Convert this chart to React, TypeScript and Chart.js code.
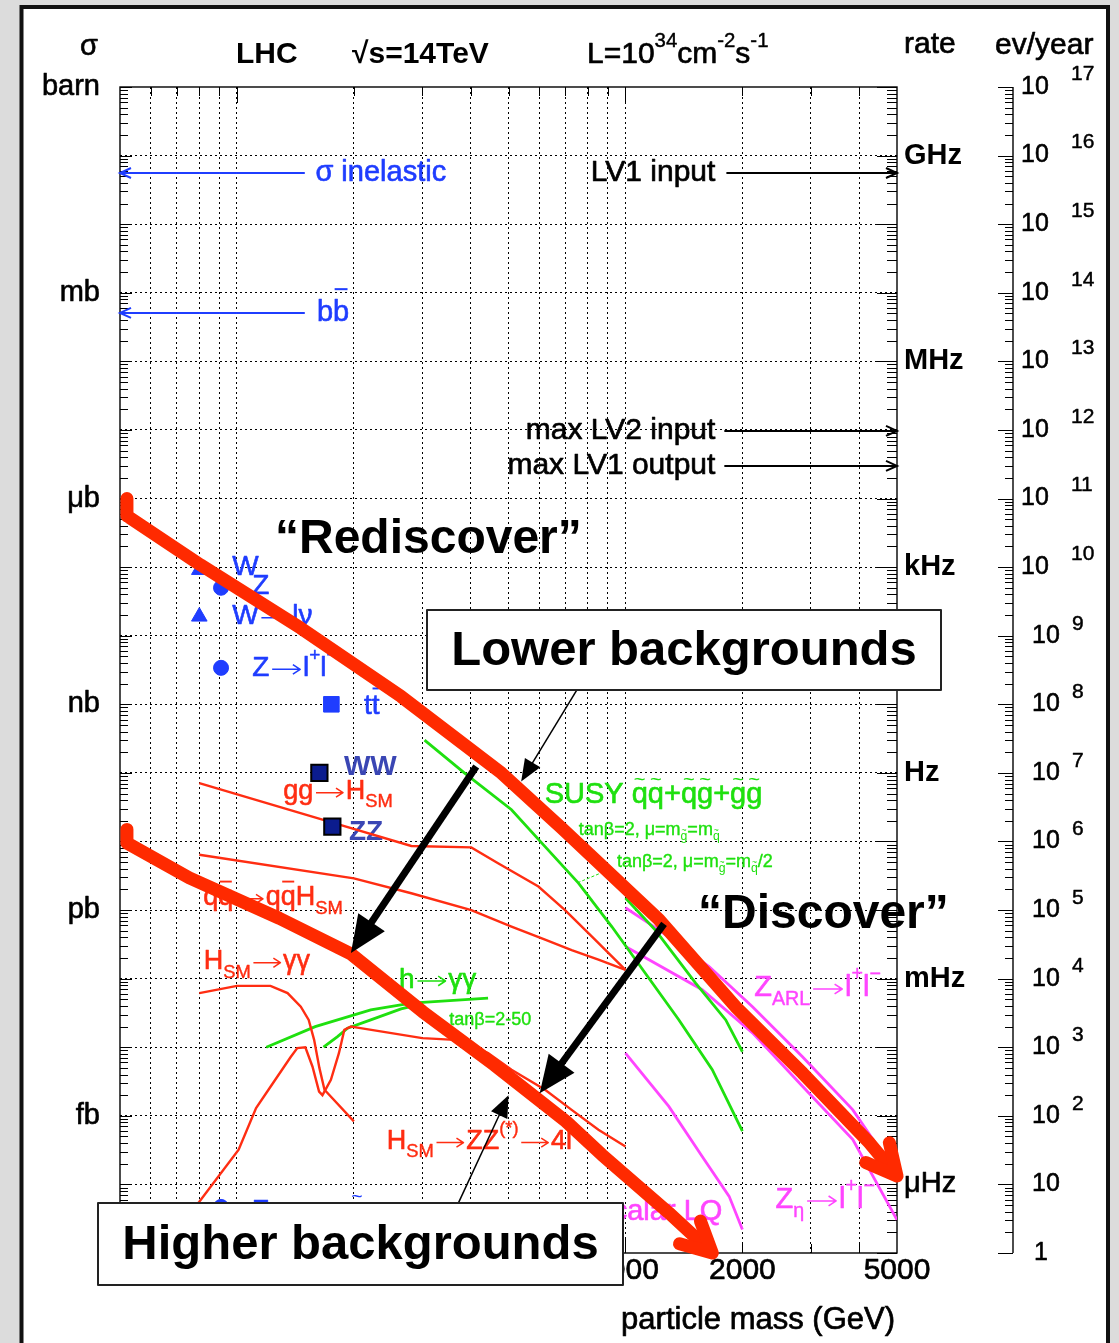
import React, { useEffect, useRef } from 'react';
import { Chart, registerables } from 'chart.js';

Chart.register(...registerables);

// ---------------- data: x = particle mass (GeV), y = cross-section sigma (barn) ----------------
const xTickLabels = [50, 100, 200, 500, 1000, 2000, 5000];
const xGridValues = [60, 70, 80, 90, 100, 200, 300, 400, 500, 600, 700, 800, 900, 1000, 2000, 3000, 4000];
const yGridValues = [1e-1, 1e-2, 1e-3, 1e-4, 1e-5, 1e-6, 1e-7, 1e-8, 1e-9, 1e-10, 1e-11, 1e-12, 1e-13, 1e-14, 1e-15, 1e-16];
const unitLabels = ['barn', 'mb', 'μb', 'nb', 'pb', 'fb'];
const unitSigma = [1, 1e-3, 1e-6, 1e-9, 1e-12, 1e-15];
const rateLabels = ['GHz', 'MHz', 'kHz', 'Hz', 'mHz', 'μHz'];
const rateSigma = [1e-1, 1e-4, 1e-7, 1e-10, 1e-13, 1e-16];
const evYearExponents = [17, 16, 15, 14, 13, 12, 11, 10, 9, 8, 7, 6, 5, 4, 3, 2, 1, 0];
const EV_PER_YEAR_PER_BARN = 1e17;

// Standard model Higgs (red)
const ggH_mass = [80, 178, 281, 401, 470, 597, 699, 820, 1000];
const ggH_sigma = [7.1e-11, 1.85e-11, 8.6e-12, 8.2e-12, 4.8e-12, 2.2e-12, 1.0e-12, 4.1e-13, 1.34e-13];
const qqH_mass = [80, 200, 281, 401, 509, 621, 727, 852, 1000];
const qqH_sigma = [6.4e-12, 2.9e-12, 1.76e-12, 1.0e-12, 5.75e-13, 3.7e-13, 2.6e-13, 1.9e-13, 1.34e-13];
const Hgg_mass = [80, 100, 122, 135, 146, 153, 158, 163, 168, 200];
const Hgg_sigma = [6.15e-14, 7.85e-14, 7.85e-14, 6.15e-14, 3.9e-14, 2.5e-14, 1.28e-14, 5.0e-15, 2.4e-15, 8.3e-16];
const HZZ_mass = [63, 80, 101, 112, 122, 137.5, 143, 150, 156.5, 162.7, 166, 174.5, 183, 189, 196.5, 208, 300, 364, 443, 509, 621, 727, 852, 1000];
const HZZ_sigma = [1.1e-17, 5.6e-17, 3.2e-16, 1.3e-15, 2.65e-15, 7.2e-15, 9.7e-15, 1.0e-14, 5.2e-15, 2.26e-15, 2.0e-15, 3.35e-15, 8.2e-15, 1.8e-14, 2.0e-14, 1.9e-14, 1.36e-14, 1.28e-14, 8.2e-15, 4.7e-15, 2.4e-15, 1.22e-15, 6.25e-16, 3.57e-16];

// MSSM h -> gamma gamma (green)
const hggA_mass = [119, 159, 221, 281, 443];
const hggA_sigma = [1.0e-14, 2.0e-14, 3.5e-14, 4.4e-14, 5.2e-14];
const hggB_mass = [167, 181.5, 192.6, 221, 264.5, 300];
const hggB_sigma = [1.0e-14, 1.43e-14, 1.9e-14, 2.5e-14, 3.63e-14, 4.3e-14];

// SUSY squark/gluino (green)
const susy1_mass = [304, 385.5, 509, 621, 757, 923, 1125, 1373, 1673, 2000];
const susy1_sigma = [3.0e-10, 9.9e-11, 2.9e-11, 8.4e-12, 2.47e-12, 5.7e-13, 1.2e-13, 2.5e-14, 4.7e-15, 6.0e-16];
const susy2_mass = [1000, 1194, 1514, 1812, 2000];
const susy2_sigma = [1.5e-12, 5.1e-13, 8.7e-14, 2.5e-14, 8.6e-15];

// Exotics (magenta)
const zarl_mass = [1000, 1221, 1644, 2123, 2859, 3848, 5000];
const zarl_sigma = [1.08e-12, 5.1e-13, 1.49e-13, 3.9e-14, 7.2e-15, 1.22e-15, 1.38e-16];
const zeta_mass = [1000, 1576, 2123, 2859, 3848, 5000];
const zeta_sigma = [2.94e-13, 6.9e-14, 1.62e-14, 2.67e-15, 4.5e-16, 3.05e-17];
const lq_mass = [1000, 1293, 1576, 1849, 2000];
const lq_sigma = [8.2e-15, 1.37e-15, 2.55e-16, 6.7e-17, 2.2e-17];

// Standard processes (blue / navy markers)
const wTot_mass = [80];
const wTot_sigma = [9.1e-8];
const wLnu_mass = [80];
const wLnu_sigma = [1.9e-8];
const zTot_mass = [91, 91];
const zTot_sigma = [5.0e-8, 4.7e-17];
const zLL_mass = [91];
const zLL_sigma = [3.4e-9];
const tt_mass = [175];
const tt_sigma = [1.0e-9];
const diboson_mass = [163, 176];
const diboson_sigma = [1.0e-10, 1.65e-11];

// "Rediscover" / "Discover" thick red bands
const redUpper_mass = [52.1, 52.1, 80.5, 145.9, 264.5, 480, 686, 1221, 1919, 2859, 4251, 5000];
const redUpper_sigma = [1.0e-6, 5.6e-7, 1.08e-7, 1.29e-8, 1.3e-9, 9.9e-11, 1.56e-11, 7.2e-13, 3.92e-14, 4.19e-15, 4.0e-16, 1.33e-16];
const redLower_mass = [52.1, 52.1, 75.4, 128.5, 196.5, 300.5, 460, 703, 870, 1293, 1673];
const redLower_sigma = [1.5e-11, 9.5e-12, 2.95e-12, 7.6e-13, 2.3e-13, 3.3e-14, 5.5e-15, 8.3e-16, 2.7e-16, 3.85e-17, 1.0e-17];

// arrows: [tail mass, tail sigma, tip mass, tip sigma]
const thickArrowA = [413, 1.24e-10, 196.5, 2.37e-13];
const thickArrowB = [1257, 6.3e-13, 601.5, 2.14e-15];
const thinArrowC = [750, 1.62e-9, 539, 7.5e-11];
const thinArrowD = [371.4, 5.34e-17, 500, 2.0e-15];
// horizontal reference arrows: sigma level, from mass, to mass
const inelastic_level = [0.0558, 149.5, 50];
const bb_level = [5.08e-4, 149.5, 50];
const lv1in_level = [0.0558, 1819, 5000];
const lv2in_level = [9.67e-6, 1797, 5000];
const lv1out_level = [2.99e-6, 1797, 5000];

// ---------------- styles ----------------
const FONT = "'Liberation Sans', Arial, Helvetica, sans-serif";
const RED = '#ff2d12';
const RED_THICK = '#ff2a00';
const GREEN = '#1fe00f';
const MAGENTA = '#ff45ff';
const BLUE = '#1f3dff';
const NAVY = '#0b1c8e';
const NAVY_TXT = '#3a46b4';

type Part = { t: string; sub?: boolean; sup?: boolean; tilde?: boolean; bar?: number; arrow?: boolean };

function expandArrows(parts: (string | Part)[]): Part[] {
  const out: Part[] = [];
  for (const raw of parts) {
    const p: Part = typeof raw === 'string' ? { t: raw } : raw;
    if (!p.t.includes('→')) {
      out.push(p);
      continue;
    }
    const pieces = p.t.split('→');
    pieces.forEach((piece, i) => {
      if (piece) out.push({ ...p, t: piece });
      if (i < pieces.length - 1) out.push({ ...p, t: '', arrow: true });
    });
  }
  return out;
}

function drawRich(ctx: CanvasRenderingContext2D, parts: (string | Part)[], x: number, y: number, size: number, color: string, bold = false, align: 'left' | 'right' | 'center' = 'left') {
  const norm = expandArrows(parts);
  const w8 = bold ? 'bold ' : '';
  const fsOf = (p: Part) => (p.sub || p.sup ? size * 0.68 : size);
  const widths: number[] = [];
  let total = 0;
  for (const p of norm) {
    ctx.font = `${w8}${fsOf(p)}px ${FONT}`;
    const w = p.arrow ? fsOf(p) * 1.2 : ctx.measureText(p.t).width;
    widths.push(w);
    total += w;
  }
  let cx = align === 'right' ? x - total : align === 'center' ? x - total / 2 : x;
  ctx.save();
  ctx.fillStyle = color;
  ctx.strokeStyle = color;
  ctx.textBaseline = 'middle';
  ctx.textAlign = 'left';
  ctx.lineJoin = 'round';
  norm.forEach((p, i) => {
    const fs = fsOf(p);
    const dy = p.sub ? size * 0.4 : p.sup ? -size * 0.45 : 0;
    if (p.arrow) {
      const ay = y + dy + fs * 0.04;
      const x1 = cx + fs * 0.1, x2 = cx + widths[i] - fs * 0.1;
      ctx.lineWidth = Math.max(1.2, fs * 0.055);
      ctx.beginPath();
      ctx.moveTo(x1, ay);
      ctx.lineTo(x2, ay);
      ctx.moveTo(x2 - fs * 0.26, ay - fs * 0.17);
      ctx.lineTo(x2, ay);
      ctx.lineTo(x2 - fs * 0.26, ay + fs * 0.17);
      ctx.stroke();
    } else {
      ctx.font = `${w8}${fs}px ${FONT}`;
      ctx.fillText(p.t, cx, y + dy);
      if (!bold && fs >= 16) {
        ctx.lineWidth = fs * 0.022;
        ctx.strokeText(p.t, cx, y + dy);
      }
    }
    if (p.tilde) {
      ctx.font = `${fs * 0.7}px ${FONT}`;
      ctx.textAlign = 'center';
      ctx.fillText('~', cx + widths[i] / 2, y + dy - fs * 0.5);
      ctx.textAlign = 'left';
    }
    if (p.bar) {
      ctx.lineWidth = Math.max(1.3, fs * 0.07);
      ctx.beginPath();
      ctx.moveTo(cx + widths[i] * 0.1, y + dy - fs * p.bar);
      ctx.lineTo(cx + widths[i] * 0.9, y + dy - fs * p.bar);
      ctx.stroke();
    }
    cx += widths[i];
  });
  ctx.restore();
}

function line(ctx: CanvasRenderingContext2D, x1: number, y1: number, x2: number, y2: number) {
  ctx.beginPath();
  ctx.moveTo(x1, y1);
  ctx.lineTo(x2, y2);
  ctx.stroke();
}

function filledHead(ctx: CanvasRenderingContext2D, tx: number, ty: number, fx: number, fy: number, len: number, half: number) {
  const L = Math.hypot(tx - fx, ty - fy);
  const ux = (tx - fx) / L, uy = (ty - fy) / L;
  const bx = tx - ux * len, by = ty - uy * len;
  ctx.beginPath();
  ctx.moveTo(tx, ty);
  ctx.lineTo(bx - uy * half, by + ux * half);
  ctx.lineTo(bx + uy * half, by - ux * half);
  ctx.closePath();
  ctx.fill();
}

function openHead(ctx: CanvasRenderingContext2D, tx: number, ty: number, fx: number, fy: number, len: number, half: number) {
  const L = Math.hypot(tx - fx, ty - fy);
  const ux = (tx - fx) / L, uy = (ty - fy) / L;
  const bx = tx - ux * len, by = ty - uy * len;
  ctx.beginPath();
  ctx.moveTo(bx - uy * half, by + ux * half);
  ctx.lineTo(tx, ty);
  ctx.lineTo(bx + uy * half, by - ux * half);
  ctx.stroke();
}

const pts = (m: number[], s: number[]) => m.map((x, i) => ({ x, y: s[i] }));

const thinCurve = (label: string, m: number[], s: number[], color: string, width = 2.4) => ({
  label,
  data: pts(m, s),
  borderColor: color,
  borderWidth: width,
  pointRadius: 0,
  fill: false,
  tension: 0,
  order: 10,
});

const thickBand = (label: string, m: number[], s: number[]) => ({
  label,
  data: pts(m, s),
  borderColor: RED_THICK,
  borderWidth: 13,
  borderJoinStyle: 'round',
  borderCapStyle: 'butt',
  pointRadius: 0,
  fill: false,
  tension: 0,
  clip: false,
  order: 1,
});

const markers = (label: string, m: number[], s: number[], style: string, radius: number, fillC: string, borderC: string, bw: number) => ({
  label,
  data: pts(m, s),
  showLine: false,
  pointStyle: style,
  pointRadius: radius,
  pointBackgroundColor: fillC,
  pointBorderColor: borderC,
  pointBorderWidth: bw,
  order: 5,
});

const lhcPlugin = {
  id: 'lhcAnnotations',
  beforeDraw(chart: any) {
    const ctx: CanvasRenderingContext2D = chart.ctx;
    ctx.save();
    ctx.fillStyle = '#dcdcdc';
    ctx.fillRect(0, 0, chart.width, chart.height);
    ctx.fillStyle = '#ffffff';
    ctx.fillRect(21, 6, 1087, 1400);
    ctx.strokeStyle = '#111';
    ctx.lineWidth = 4;
    ctx.strokeRect(21.5, 7, 1086.5, 1400);
    ctx.restore();
  },
  beforeDatasetsDraw(chart: any) {
    const ctx: CanvasRenderingContext2D = chart.ctx;
    const xs = chart.scales.x, ys = chart.scales.y;
    const X = (m: number) => xs.getPixelForValue(m);
    const Y = (s: number) => ys.getPixelForValue(s);
    const { left: L, right: R, top: T, bottom: B } = chart.chartArea;
    ctx.save();
    // frame
    ctx.strokeStyle = '#000';
    ctx.lineWidth = 1.4;
    ctx.strokeRect(L, T, R - L, B - T);
    // y ticks (left frame, right frame, ev/year axis)
    const AX = 1013;
    ctx.lineWidth = 1;
    for (let d = -17; d <= 0; d++) {
      for (let k = 1; k <= 9; k++) {
        if (d === 0 && k > 1) break;
        const v = Number(`${k}e${d}`);
        const y = Math.round(Y(v)) + 0.5;
        const major = k === 1;
        line(ctx, L, y, L + (major ? 12 : 8), y);
        line(ctx, R, y, R - (major ? 20 : 10), y);
        line(ctx, AX, y, AX - (major ? 15 : 8), y);
      }
    }
    ctx.lineWidth = 1.4;
    line(ctx, AX, Y(1), AX, Y(1e-17));
    // x ticks
    ctx.lineWidth = 1;
    for (const v of xGridValues) {
      const x = Math.round(X(v)) + 0.5;
      const major = v === 100 || v === 1000;
      line(ctx, x, T, x, T + (major ? 16 : 9));
      line(ctx, x, B, x, B - (major ? 16 : 9));
    }
    // x tick labels
    for (const v of xTickLabels) drawRich(ctx, [String(v)], X(v), B + 18, 30, '#000', false, 'center');
    drawRich(ctx, ['particle mass (GeV)'], 895, B + 67, 31, '#000', false, 'right');
    // left unit labels
    drawRich(ctx, ['σ'], 89, 47, 29, '#000', false, 'center');
    unitLabels.forEach((lab, i) => drawRich(ctx, [lab], 100, Y(unitSigma[i]), 29, '#000', false, 'right'));
    // rate labels
    rateLabels.forEach((lab, i) => drawRich(ctx, [lab], 904, Y(rateSigma[i]), 29, '#000', lab !== 'μHz', 'left'));
    // ev/year labels
    for (const n of evYearExponents) {
      const y = Y(Math.pow(10, n) / EV_PER_YEAR_PER_BARN);
      if (n >= 10) {
        drawRich(ctx, ['10'], 1021, y, 25, '#000');
        drawRich(ctx, [String(n)], 1071, y - 13, 21, '#000');
      } else if (n >= 2) {
        drawRich(ctx, ['10'], 1032, y, 25, '#000');
        drawRich(ctx, [String(n)], 1072, y - 12, 21, '#000');
      } else if (n === 1) {
        drawRich(ctx, ['10'], 1032, y, 25, '#000');
      } else {
        drawRich(ctx, ['1'], 1034, y, 25, '#000');
      }
    }
    // header
    drawRich(ctx, ['LHC'], 236, 55, 30, '#000', true);
    drawRich(ctx, ['√s=14TeV'], 352, 55, 30, '#000', true);
    drawRich(ctx, ['L=10', { t: '34', sup: true }, 'cm', { t: '-2', sup: true }, 's', { t: '-1', sup: true }], 587, 55, 30, '#000');
    drawRich(ctx, ['rate'], 904, 45, 30, '#000');
    drawRich(ctx, ['ev/year'], 995, 46, 30, '#000');

    // horizontal reference arrows
    const hArrow = (lvl: number[], color: string) => {
      const y = Y(lvl[0]);
      const x1 = X(lvl[1]), x2 = X(lvl[2]);
      ctx.strokeStyle = color;
      ctx.lineWidth = 2;
      line(ctx, x1, y, x2, y);
      openHead(ctx, x2, y, x1, y, 11, 5);
    };
    hArrow(inelastic_level, BLUE);
    hArrow(bb_level, BLUE);
    hArrow(lv1in_level, '#000');
    hArrow(lv2in_level, '#000');
    hArrow(lv1out_level, '#000');

    // curve / process labels (data coordinates)
    const lab = (m: number, s: number, parts: (string | Part)[], size: number, color: string, bold = false, align: 'left' | 'right' | 'center' = 'left') =>
      drawRich(ctx, parts, X(m), Y(s), size, color, bold, align);
    lab(159.2, 0.0558, ['σ inelastic'], 29, BLUE);
    lab(160.6, 5.08e-4, ['b', { t: 'b', bar: 0.82 }], 29, BLUE);
    lab(1703.6, 0.0558, ['LV1 input'], 30, '#000', false, 'right');
    lab(1703.6, 9.67e-6, ['max LV2 input'], 30, '#000', false, 'right');
    lab(1703.6, 2.99e-6, ['max LV1 output'], 30, '#000', false, 'right');
    lab(97.2, 9.96e-8, ['W'], 28, BLUE);
    lab(109.5, 5.2e-8, ['Z'], 28, BLUE);
    lab(97.2, 1.9e-8, ['W→lν'], 28, BLUE);
    lab(109.5, 3.36e-9, ['Z→l', { t: '+', sup: true }, 'l', { t: '−', sup: true }], 28, BLUE);
    lab(212.3, 9.5e-10, ['t', { t: 't', bar: 0.62 }], 28, BLUE);
    lab(109.5, 4.0e-17, ['Z    →  ', { t: 'χ', tilde: true }, { t: '2', sub: true }], 28, BLUE);
    lab(188.5, 1.22e-10, ['WW'], 28, NAVY_TXT, true);
    lab(194.2, 1.38e-11, ['ZZ'], 28, NAVY_TXT, true);
    lab(131.6, 5.34e-11, ['gg→H', { t: 'SM', sub: true }], 27, RED);
    lab(81.9, 1.51e-12, ['q', { t: 'q', bar: 0.6 }, '→q', { t: 'q', bar: 0.6 }, 'H', { t: 'SM', sub: true }], 27, RED);
    lab(82.1, 1.77e-13, ['H', { t: 'SM', sub: true }, '→γγ'], 27, RED);
    lab(243, 4.22e-16, ['H', { t: 'SM', sub: true }, '→ZZ', { t: '(*)', sup: true }, '→4l'], 27, RED);
    lab(619.6, 4.78e-11, ['SUSY ', { t: 'q', tilde: true }, { t: 'q', tilde: true }, '+', { t: 'q', tilde: true }, { t: 'g', tilde: true }, '+', { t: 'g', tilde: true }, { t: 'g', tilde: true }], 29, GREEN);
    lab(758.4, 1.48e-11, ['tanβ=2, μ=m', { t: 'g', sub: true, tilde: true }, '=m', { t: 'q', sub: true, tilde: true }], 18, GREEN);
    lab(950.7, 5.04e-12, ['tanβ=2, μ=m', { t: 'g', sub: true, tilde: true }, '=m', { t: 'q', sub: true, tilde: true }, '/2'], 18, GREEN);
    lab(261.4, 9.6e-14, ['h→γγ'], 28, GREEN);
    lab(352, 2.51e-14, ['tanβ=2-50'], 18, GREEN);
    lab(2145, 7.34e-14, ['Z', { t: 'ARL', sub: true }, '→l', { t: '+', sup: true }, 'l', { t: '−', sup: true }], 29, MAGENTA);
    lab(2434, 5.97e-17, ['Z', { t: 'η', sub: true }, '→l', { t: '+', sup: true }, 'l', { t: '−', sup: true }], 29, MAGENTA);
    lab(1775.6, 3.99e-17, ['scalar LQ'], 29, MAGENTA, false, 'right');
    // leader line for the second SUSY label
    ctx.strokeStyle = GREEN;
    ctx.lineWidth = 1;
    ctx.setLineDash([3, 2]);
    line(ctx, X(854), Y(3.37e-12), X(749.7), Y(2.47e-12));
    ctx.setLineDash([]);
    ctx.restore();
  },
  afterDatasetsDraw(chart: any) {
    const ctx: CanvasRenderingContext2D = chart.ctx;
    const xs = chart.scales.x, ys = chart.scales.y;
    const X = (m: number) => xs.getPixelForValue(m);
    const Y = (s: number) => ys.getPixelForValue(s);
    ctx.save();
    // chevron heads on the thick red bands
    const chevron = (m: number[], s: number[]) => {
      const n = m.length;
      const tx = X(m[n - 1]), ty = Y(s[n - 1]);
      const fx = X(m[n - 2]), fy = Y(s[n - 2]);
      const a = Math.atan2(ty - fy, tx - fx);
      const ang = 0.47, len = 34;
      ctx.strokeStyle = RED_THICK;
      ctx.lineWidth = 13;
      ctx.lineCap = 'round';
      ctx.lineJoin = 'round';
      ctx.beginPath();
      ctx.moveTo(tx - len * Math.cos(a - ang), ty - len * Math.sin(a - ang));
      ctx.lineTo(tx, ty);
      ctx.lineTo(tx - len * Math.cos(a + ang), ty - len * Math.sin(a + ang));
      ctx.stroke();
    };
    chevron(redUpper_mass, redUpper_sigma);
    chevron(redLower_mass, redLower_sigma);
    ctx.lineCap = 'butt';
    // thick black arrows
    const bigArrow = (a: number[]) => {
      const fx = X(a[0]), fy = Y(a[1]), tx = X(a[2]), ty = Y(a[3]);
      const Ls = Math.hypot(tx - fx, ty - fy);
      const ux = (tx - fx) / Ls, uy = (ty - fy) / Ls;
      ctx.strokeStyle = '#000';
      ctx.fillStyle = '#000';
      ctx.lineWidth = 7;
      line(ctx, fx, fy, tx - ux * 30, ty - uy * 30);
      filledHead(ctx, tx, ty, fx, fy, 37, 16);
    };
    bigArrow(thickArrowA);
    bigArrow(thickArrowB);
    const smallArrow = (a: number[]) => {
      const fx = X(a[0]), fy = Y(a[1]), tx = X(a[2]), ty = Y(a[3]);
      const Ls = Math.hypot(tx - fx, ty - fy);
      const ux = (tx - fx) / Ls, uy = (ty - fy) / Ls;
      ctx.strokeStyle = '#000';
      ctx.fillStyle = '#000';
      ctx.lineWidth = 1.5;
      line(ctx, fx, fy, tx - ux * 15, ty - uy * 15);
      filledHead(ctx, tx, ty, fx, fy, 22, 9);
    };
    smallArrow(thinArrowC);
    smallArrow(thinArrowD);
    // boxes
    const box = (x: number, y: number, w: number, h: number, text: string) => {
      ctx.fillStyle = '#fff';
      ctx.fillRect(x, y, w, h);
      ctx.strokeStyle = '#222';
      ctx.lineWidth = 2;
      ctx.strokeRect(x, y, w, h);
      drawRich(ctx, [text], x + w / 2, y + h / 2 + 1, 49, '#000', true, 'center');
    };
    box(427, 610, 514, 80, 'Lower backgrounds');
    box(98, 1203, 525, 82, 'Higher backgrounds');
    drawRich(ctx, ['“Rediscover”'], 275, 540, 48, '#000', true);
    drawRich(ctx, ['“Discover”'], 698, 915, 48, '#000', true);
    ctx.restore();
  },
};

export default function App() {
  const ref = useRef<HTMLCanvasElement | null>(null);
  useEffect(() => {
    document.body.style.margin = '0';
    const canvas = ref.current;
    if (!canvas) return;
    const datasets: any[] = [
      thickBand('Rediscover band', redUpper_mass, redUpper_sigma),
      thickBand('Discover band', redLower_mass, redLower_sigma),
      markers('W', wTot_mass, wTot_sigma, 'triangle', 9, BLUE, BLUE, 1),
      markers('W->lnu', wLnu_mass, wLnu_sigma, 'triangle', 9, BLUE, BLUE, 1),
      markers('Z', zTot_mass, zTot_sigma, 'circle', 7.5, BLUE, BLUE, 1),
      markers('Z->ll', zLL_mass, zLL_sigma, 'circle', 7.5, BLUE, BLUE, 1),
      markers('ttbar', tt_mass, tt_sigma, 'rect', 11, BLUE, BLUE, 1),
      markers('WW/ZZ', diboson_mass, diboson_sigma, 'rect', 11.5, NAVY, '#000', 2),
      thinCurve('gg->H', ggH_mass, ggH_sigma, RED),
      thinCurve('qq->qqH', qqH_mass, qqH_sigma, RED),
      thinCurve('H->gg', Hgg_mass, Hgg_sigma, RED),
      thinCurve('H->ZZ->4l', HZZ_mass, HZZ_sigma, RED),
      thinCurve('h->gg A', hggA_mass, hggA_sigma, GREEN, 2.8),
      thinCurve('h->gg B', hggB_mass, hggB_sigma, GREEN, 2.8),
      thinCurve('SUSY 1', susy1_mass, susy1_sigma, GREEN, 2.8),
      thinCurve('SUSY 2', susy2_mass, susy2_sigma, GREEN, 2.8),
      thinCurve('Z_ARL', zarl_mass, zarl_sigma, MAGENTA, 2.8),
      thinCurve('Z_eta', zeta_mass, zeta_sigma, MAGENTA, 2.8),
      thinCurve('scalar LQ', lq_mass, lq_sigma, MAGENTA, 2.8),
    ];
    const chart = new Chart(canvas, {
      type: 'line',
      data: { datasets },
      options: {
        responsive: false,
        animation: false,
        devicePixelRatio: 1,
        events: [],
        layout: { padding: { left: 120, right: 222, top: 87, bottom: 90 } },
        plugins: { legend: { display: false }, tooltip: { enabled: false } },
        scales: {
          x: {
            type: 'logarithmic',
            min: 50,
            max: 5000,
            ticks: { display: false },
            grid: { color: '#000', lineWidth: 1, drawTicks: false },
            border: { display: false, dash: [2, 3] },
            afterBuildTicks: (s: any) => {
              s.ticks = xGridValues.map((v) => ({ value: v }));
            },
          },
          y: {
            type: 'logarithmic',
            min: 1e-17,
            max: 1,
            ticks: { display: false },
            grid: { color: '#000', lineWidth: 1, drawTicks: false },
            border: { display: false, dash: [2, 3] },
            afterBuildTicks: (s: any) => {
              s.ticks = yGridValues.map((v) => ({ value: v }));
            },
          },
        },
      } as any,
      plugins: [lhcPlugin],
    } as any);
    return () => chart.destroy();
  }, []);
  return (
    <div style={{ width: 1119, height: 1343 }}>
      <canvas ref={ref} width={1119} height={1343} style={{ display: 'block', width: 1119, height: 1343 }} />
    </div>
  );
}
